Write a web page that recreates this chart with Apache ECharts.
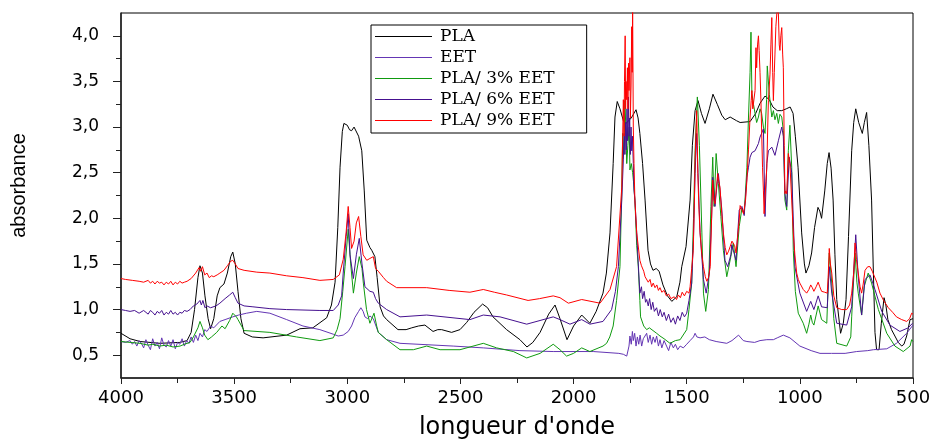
<!DOCTYPE html>
<html>
<head>
<meta charset="utf-8">
<script src="https://cdn.jsdelivr.net/npm/echarts@6/dist/echarts.min.js"></script>
<style>html,body{margin:0;padding:0;background:#fff;}#chart{width:938px;height:439px;}</style>
</head>
<body>
<div id="chart"></div>
<script>
// ---- data (wavenumber cm-1, absorbance) ----
const seriesNames = ['PLA', 'EET', 'PLA/ 3% EET', 'PLA/ 6% EET', 'PLA/ 9% EET'];
const yTickValues = [0.5, 1.0, 1.5, 2.0, 2.5, 3.0, 3.5, 4.0];
const yMinorTickValues = [0.75, 1.25, 1.75, 2.25, 2.75, 3.25, 3.75];

const plaData = [[4000,0.74],[3960,0.68],[3916,0.65],[3828,0.63],[3740,0.64],[3708,0.66],[3690,0.75],[3675,1.0],[3660,1.35],[3651,1.48],[3640,1.4],[3629,1.15],[3615,0.9],[3604,0.79],[3590,0.9],[3575,1.15],[3563,1.24],[3545,1.28],[3530,1.4],[3515,1.58],[3506,1.63],[3495,1.5],[3483,1.2],[3470,0.9],[3456,0.74],[3420,0.70],[3372,0.69],[3268,0.72],[3209,0.79],[3152,0.80],[3091,0.91],[3070,1.05],[3054,1.3],[3042,1.9],[3032,2.56],[3022,2.95],[3015,3.04],[3000,3.02],[2990,2.97],[2981,2.96],[2970,3.0],[2962,3.0],[2950,2.9],[2936,2.74],[2925,2.3],[2914,1.76],[2900,1.68],[2892,1.65],[2878,1.58],[2868,1.35],[2855,1.03],[2840,0.93],[2826,0.89],[2776,0.78],[2740,0.78],[2715,0.80],[2685,0.82],[2657,0.83],[2621,0.76],[2600,0.78],[2583,0.78],[2539,0.75],[2502,0.78],[2472,0.86],[2440,0.97],[2402,1.06],[2380,1.02],[2356,0.92],[2296,0.78],[2237,0.67],[2206,0.59],[2180,0.64],[2148,0.75],[2110,0.95],[2082,1.05],[2060,0.9],[2029,0.67],[2000,0.82],[1964,0.94],[1928,0.85],[1900,0.98],[1870,1.18],[1855,1.4],[1839,1.84],[1825,2.6],[1817,3.11],[1807,3.28],[1795,3.2],[1780,3.07],[1768,3.04],[1745,3.1],[1724,3.19],[1715,3.1],[1707,2.93],[1695,2.6],[1684,2.2],[1671,1.65],[1660,1.5],[1649,1.43],[1635,1.45],[1622,1.42],[1605,1.27],[1585,1.15],[1566,1.09],[1544,1.14],[1530,1.3],[1522,1.47],[1503,1.69],[1485,2.2],[1475,2.8],[1463,3.18],[1450,3.29],[1435,3.15],[1419,3.04],[1400,3.2],[1384,3.36],[1365,3.25],[1345,3.13],[1330,3.08],[1308,3.11],[1280,3.07],[1264,3.05],[1220,3.06],[1195,3.15],[1176,3.26],[1154,3.34],[1135,3.30],[1119,3.22],[1100,3.18],[1080,3.18],[1060,3.20],[1043,3.22],[1030,3.15],[1020,2.9],[1008,2.56],[992,1.84],[980,1.5],[973,1.40],[960,1.48],[948,1.62],[935,1.9],[920,2.12],[912,2.08],[904,2.0],[890,2.3],[879,2.6],[871,2.72],[862,2.55],[853,2.2],[845,1.6],[837,1.11],[820,0.74],[808,0.85],[796,1.11],[785,1.8],[771,2.74],[762,3.05],[753,3.20],[740,3.05],[724,2.93],[715,3.05],[705,3.16],[695,2.8],[683,2.2],[675,1.4],[668,0.75],[661,0.56],[650,0.56],[640,0.85],[628,1.13],[620,1.05],[611,0.89],[595,0.78],[580,0.71],[565,0.64],[550,0.60],[540,0.62],[528,0.71],[513,0.89],[500,0.90]];

const eetData = [[4000,0.65],[3980,0.64],[3960,0.66],[3950,0.62],[3940,0.65],[3930,0.60],[3920,0.66],[3910,0.63],[3900,0.58],[3890,0.67],[3880,0.61],[3870,0.56],[3860,0.68],[3850,0.60],[3840,0.64],[3830,0.57],[3820,0.69],[3810,0.61],[3800,0.59],[3790,0.66],[3780,0.60],[3770,0.67],[3760,0.57],[3750,0.64],[3740,0.62],[3730,0.68],[3720,0.60],[3710,0.66],[3700,0.63],[3690,0.70],[3680,0.64],[3670,0.72],[3660,0.66],[3651,0.74],[3640,0.70],[3630,0.78],[3620,0.76],[3604,0.82],[3590,0.80],[3563,0.87],[3540,0.89],[3506,0.92],[3480,0.94],[3445,0.96],[3400,0.98],[3342,0.96],[3268,0.89],[3196,0.82],[3121,0.78],[3062,0.73],[3040,0.71],[3018,0.72],[2996,0.76],[2981,0.82],[2967,0.91],[2950,0.98],[2940,1.02],[2930,0.98],[2922,0.92],[2910,0.90],[2900,0.93],[2885,0.90],[2863,0.75],[2826,0.67],[2767,0.63],[2532,0.60],[2399,0.58],[2237,0.55],[2090,0.54],[1913,0.54],[1800,0.52],[1780,0.51],[1765,0.49],[1755,0.60],[1751,0.71],[1745,0.62],[1740,0.76],[1736,0.66],[1730,0.74],[1724,0.60],[1718,0.70],[1712,0.62],[1706,0.72],[1699,0.60],[1692,0.68],[1685,0.70],[1677,0.74],[1670,0.64],[1662,0.72],[1655,0.62],[1648,0.70],[1640,0.64],[1633,0.71],[1625,0.60],[1618,0.67],[1610,0.58],[1600,0.66],[1589,0.60],[1580,0.55],[1570,0.64],[1559,0.58],[1550,0.62],[1540,0.56],[1529,0.60],[1515,0.58],[1500,0.62],[1485,0.66],[1470,0.70],[1463,0.74],[1455,0.70],[1441,0.69],[1420,0.70],[1400,0.67],[1370,0.65],[1323,0.63],[1300,0.66],[1271,0.72],[1250,0.66],[1234,0.65],[1200,0.64],[1176,0.66],[1146,0.67],[1117,0.67],[1100,0.69],[1073,0.72],[1044,0.69],[1000,0.60],[950,0.55],[911,0.52],[860,0.52],[800,0.52],[749,0.54],[700,0.55],[675,0.56],[616,0.57],[573,0.63],[528,0.74],[500,0.83]];

const pla3Data = [[4000,0.65],[3960,0.64],[3916,0.63],[3880,0.61],[3859,0.62],[3830,0.60],[3800,0.61],[3770,0.59],[3739,0.60],[3720,0.62],[3695,0.64],[3680,0.70],[3660,0.80],[3651,0.87],[3640,0.80],[3630,0.72],[3616,0.67],[3600,0.70],[3577,0.75],[3554,0.82],[3540,0.79],[3520,0.88],[3506,0.96],[3490,0.92],[3483,0.89],[3456,0.77],[3342,0.75],[3224,0.70],[3121,0.66],[3062,0.69],[3045,0.78],[3032,0.90],[3020,1.20],[3010,1.47],[2996,1.88],[2985,1.50],[2973,1.18],[2960,1.40],[2947,1.58],[2935,1.45],[2929,1.29],[2915,1.00],[2900,0.85],[2882,0.96],[2870,0.82],[2863,0.75],[2826,0.67],[2767,0.56],[2708,0.56],[2649,0.60],[2590,0.56],[2502,0.56],[2399,0.63],[2340,0.58],[2266,0.54],[2207,0.47],[2148,0.52],[2090,0.62],[2060,0.56],[2031,0.49],[2000,0.52],[1964,0.58],[1928,0.54],[1870,0.60],[1854,0.63],[1840,0.70],[1825,0.82],[1810,1.10],[1795,1.47],[1787,2.30],[1783,2.93],[1778,2.70],[1773,3.29],[1768,2.90],[1765,2.60],[1760,2.80],[1754,3.00],[1751,2.53],[1745,2.60],[1739,2.50],[1735,2.40],[1729,2.20],[1721,1.70],[1714,1.47],[1707,1.10],[1704,0.92],[1690,0.82],[1677,0.78],[1665,0.80],[1649,0.77],[1633,0.74],[1618,0.71],[1600,0.68],[1574,0.63],[1550,0.66],[1529,0.67],[1500,0.78],[1490,1.00],[1478,1.29],[1470,2.00],[1463,2.74],[1453,3.33],[1444,2.80],[1433,1.84],[1426,1.18],[1416,0.98],[1404,1.22],[1393,2.13],[1385,2.67],[1379,2.13],[1370,2.71],[1360,2.38],[1349,2.02],[1338,1.65],[1323,1.36],[1305,1.58],[1294,1.73],[1282,1.47],[1268,1.91],[1256,2.11],[1246,2.05],[1234,2.56],[1227,3.11],[1220,3.60],[1216,4.04],[1212,3.37],[1205,3.25],[1198,3.15],[1191,3.05],[1183,3.11],[1176,3.20],[1169,3.15],[1161,3.00],[1154,2.93],[1147,3.30],[1144,3.67],[1135,3.36],[1124,3.11],[1117,3.18],[1110,3.08],[1102,3.15],[1095,3.04],[1088,3.14],[1080,3.11],[1073,2.96],[1066,2.20],[1058,2.09],[1051,2.74],[1044,3.02],[1036,2.56],[1029,1.65],[1020,1.20],[1007,0.96],[985,0.85],[970,0.74],[960,0.84],[952,0.94],[945,0.86],[938,0.83],[919,1.04],[904,0.89],[881,0.85],[870,1.62],[859,1.29],[850,0.90],[837,0.63],[793,0.60],[775,0.70],[771,0.92],[756,1.62],[748,1.30],[742,1.18],[727,0.94],[716,1.25],[698,1.40],[683,1.29],[653,1.00],[616,0.74],[580,0.60],[543,0.54],[513,0.60],[506,0.67],[500,0.65]];

const pla6Data = [[4000,1.00],[3980,0.99],[3960,0.98],[3940,0.99],[3920,0.96],[3900,0.99],[3880,0.95],[3870,0.99],[3860,0.97],[3850,0.94],[3840,0.98],[3830,0.96],[3820,0.99],[3810,0.94],[3800,0.97],[3790,0.95],[3780,0.99],[3770,0.95],[3760,0.97],[3750,0.94],[3740,0.97],[3730,0.96],[3720,0.99],[3708,0.98],[3695,1.00],[3680,1.04],[3665,1.06],[3651,1.10],[3645,1.05],[3638,1.10],[3629,1.02],[3620,1.04],[3604,1.02],[3580,1.04],[3563,1.07],[3540,1.12],[3520,1.16],[3506,1.19],[3495,1.13],[3483,1.07],[3456,1.04],[3417,1.03],[3342,1.01],[3268,1.00],[3121,0.99],[3062,0.99],[3040,1.05],[3025,1.15],[3018,1.40],[3005,1.80],[2996,2.05],[2988,1.60],[2973,1.34],[2960,1.60],[2947,1.78],[2935,1.50],[2922,1.25],[2900,1.20],[2885,1.19],[2875,1.12],[2863,1.07],[2826,1.00],[2767,0.92],[2649,0.94],[2458,0.89],[2399,0.94],[2325,0.92],[2207,0.84],[2090,0.92],[2060,0.89],[2016,0.84],[1964,0.89],[1928,0.84],[1870,0.87],[1832,1.00],[1815,1.20],[1802,1.47],[1787,2.20],[1780,2.64],[1776,2.93],[1773,2.70],[1770,3.05],[1767,2.75],[1764,3.20],[1761,2.85],[1758,3.33],[1755,2.90],[1752,3.10],[1749,2.70],[1746,3.00],[1743,2.74],[1740,2.90],[1736,2.60],[1733,2.31],[1729,2.20],[1721,1.84],[1714,1.50],[1707,1.18],[1700,1.25],[1695,1.12],[1688,1.20],[1682,1.08],[1677,1.11],[1670,1.04],[1664,1.12],[1657,1.00],[1650,1.08],[1643,0.98],[1633,1.02],[1625,0.93],[1617,1.00],[1608,0.92],[1600,0.97],[1590,0.88],[1580,0.95],[1570,0.86],[1559,0.91],[1550,0.84],[1540,0.93],[1530,0.88],[1520,0.97],[1510,0.92],[1500,0.96],[1490,1.10],[1478,1.29],[1470,1.80],[1463,2.49],[1456,2.93],[1450,2.50],[1441,1.84],[1426,1.33],[1414,1.18],[1400,1.40],[1390,2.00],[1385,2.45],[1375,2.13],[1365,2.40],[1360,2.49],[1345,2.10],[1331,1.54],[1319,1.47],[1305,1.60],[1301,1.71],[1294,1.72],[1282,1.54],[1268,2.09],[1256,2.13],[1246,2.03],[1234,2.45],[1227,2.56],[1220,2.67],[1212,2.72],[1198,2.74],[1183,2.82],[1176,2.89],[1161,2.98],[1154,2.02],[1146,2.60],[1139,2.74],[1124,2.78],[1110,2.69],[1095,2.85],[1080,3.00],[1073,2.90],[1066,2.27],[1058,2.13],[1047,2.67],[1036,2.50],[1022,1.47],[1000,1.18],[970,0.98],[952,1.09],[938,1.00],[919,1.15],[904,1.03],[879,1.02],[870,1.47],[859,1.18],[837,0.85],[793,0.83],[771,1.03],[753,1.82],[742,1.36],[727,0.94],[712,1.33],[690,1.38],[668,1.22],[638,0.98],[602,0.83],[558,0.76],[521,0.80],[502,0.85],[500,0.85]];

const pla9Data = [[4000,1.34],[3980,1.33],[3950,1.32],[3920,1.31],[3900,1.30],[3880,1.32],[3870,1.29],[3860,1.31],[3850,1.28],[3840,1.31],[3830,1.29],[3820,1.30],[3810,1.27],[3800,1.30],[3790,1.28],[3780,1.31],[3770,1.27],[3760,1.30],[3750,1.28],[3740,1.31],[3730,1.29],[3720,1.30],[3708,1.31],[3690,1.34],[3670,1.40],[3655,1.46],[3648,1.42],[3640,1.47],[3630,1.38],[3620,1.40],[3610,1.35],[3600,1.37],[3590,1.36],[3575,1.38],[3563,1.40],[3545,1.43],[3530,1.48],[3515,1.53],[3506,1.54],[3495,1.50],[3483,1.45],[3456,1.43],[3400,1.41],[3342,1.40],[3268,1.37],[3196,1.35],[3121,1.32],[3062,1.33],[3035,1.38],[3018,1.55],[3005,1.85],[2996,2.13],[2988,1.90],[2981,1.67],[2970,1.75],[2960,1.95],[2950,2.02],[2940,1.80],[2930,1.60],[2914,1.54],[2900,1.56],[2885,1.58],[2875,1.45],[2863,1.42],[2855,1.42],[2840,1.35],[2826,1.31],[2782,1.24],[2649,1.24],[2550,1.21],[2458,1.19],[2399,1.22],[2350,1.19],[2296,1.16],[2201,1.10],[2150,1.12],[2090,1.15],[2060,1.13],[2023,1.07],[1964,1.11],[1883,1.07],[1839,1.22],[1810,1.47],[1787,2.34],[1783,2.90],[1780,3.30],[1777,2.90],[1775,3.50],[1772,4.00],[1770,3.20],[1768,3.50],[1765,3.30],[1762,3.65],[1760,3.20],[1757,3.70],[1755,3.40],[1751,3.76],[1749,3.10],[1746,3.45],[1743,4.10],[1741,3.60],[1739,4.30],[1736,3.00],[1733,2.60],[1729,2.20],[1721,1.84],[1707,1.54],[1700,1.48],[1690,1.42],[1684,1.36],[1677,1.38],[1670,1.30],[1662,1.33],[1655,1.25],[1648,1.29],[1640,1.24],[1632,1.27],[1625,1.21],[1618,1.24],[1610,1.19],[1600,1.21],[1590,1.15],[1580,1.17],[1570,1.12],[1562,1.10],[1555,1.14],[1545,1.11],[1537,1.16],[1528,1.13],[1520,1.19],[1510,1.15],[1500,1.20],[1490,1.18],[1485,1.25],[1478,1.45],[1471,1.65],[1466,2.20],[1463,2.64],[1458,3.00],[1456,3.18],[1453,2.80],[1451,2.49],[1446,2.10],[1441,1.84],[1433,1.60],[1426,1.47],[1418,1.36],[1411,1.31],[1404,1.35],[1396,1.47],[1390,2.00],[1385,2.42],[1380,2.20],[1375,2.16],[1370,2.30],[1363,2.49],[1358,2.40],[1353,2.34],[1345,2.05],[1338,1.84],[1330,1.68],[1323,1.60],[1315,1.64],[1308,1.69],[1300,1.75],[1294,1.77],[1288,1.70],[1282,1.62],[1275,1.80],[1268,1.98],[1264,2.14],[1256,2.10],[1249,2.05],[1240,2.20],[1234,2.42],[1227,2.75],[1220,3.11],[1215,3.29],[1212,3.40],[1208,3.20],[1205,3.18],[1198,3.40],[1194,3.87],[1191,3.65],[1187,3.90],[1183,4.00],[1180,3.84],[1176,3.60],[1172,3.29],[1165,2.56],[1161,2.30],[1158,2.05],[1154,2.05],[1150,2.40],[1146,2.56],[1142,3.00],[1139,3.29],[1135,3.45],[1132,3.58],[1128,3.90],[1124,4.20],[1120,3.60],[1117,3.29],[1113,3.60],[1110,3.80],[1106,4.10],[1102,4.24],[1098,4.30],[1095,4.25],[1091,3.90],[1088,3.84],[1084,4.00],[1080,4.09],[1076,3.80],[1073,3.65],[1069,2.80],[1066,2.27],[1062,2.30],[1058,2.27],[1051,2.71],[1044,2.60],[1036,2.20],[1029,1.84],[1022,1.60],[1014,1.40],[1007,1.33],[1000,1.29],[985,1.22],[970,1.18],[960,1.22],[952,1.27],[945,1.24],[938,1.20],[928,1.25],[919,1.30],[912,1.25],[904,1.20],[890,1.19],[879,1.18],[875,1.35],[870,1.67],[865,1.50],[859,1.40],[850,1.15],[837,1.02],[815,1.00],[793,1.00],[780,1.05],[771,1.18],[762,1.40],[756,1.73],[750,1.55],[742,1.40],[734,1.25],[727,1.18],[720,1.28],[712,1.43],[700,1.47],[690,1.47],[680,1.42],[675,1.40],[660,1.30],[646,1.18],[630,1.10],[609,1.02],[590,0.97],[573,0.92],[550,0.89],[528,0.87],[515,0.90],[506,0.96],[500,0.95]];

const seriesColors = ['#000000', '#6436b4', '#0f9a0f', '#45108f', '#ff0000'];
const seriesData = [plaData, eetData, pla3Data, pla6Data, pla9Data];

const chart = echarts.init(document.getElementById('chart'), null, {renderer: 'canvas'});
const fmtY = v => v.toFixed(1).replace('.', ',');
const fmtX = v => String(v);

chart.setOption({
  animation: false,
  backgroundColor: '#ffffff',
  grid: {left: 121, right: 25, top: 13, bottom: 61, show: true, borderColor: '#000', borderWidth: 1,
         backgroundColor: 'transparent', containLabel: false, outerBoundsMode: 'none'},
  legend: {
    data: seriesNames,
    orient: 'vertical',
    left: 371, top: 25,
    backgroundColor: '#fff',
    borderColor: '#000', borderWidth: 1,
    padding: [3, 32, 4, 4],
    itemWidth: 57, itemHeight: 14, itemGap: 4,
    icon: 'path://M0,7 L57,7 L57,8 L0,8 Z',
    textStyle: {fontFamily: 'DejaVu Serif', fontSize: 17, color: '#000', padding: [0, 0, 0, 3]}
  },
  xAxis: {
    type: 'value', inverse: true, min: 500, max: 4000, interval: 500,
    name: "longueur d'onde", nameLocation: 'middle', nameGap: 38,
    nameTextStyle: {fontFamily: 'DejaVu Sans', fontSize: 24, color: '#000'},
    axisLine: {show: true, onZero: false, lineStyle: {color: '#222', width: 1.5}},
    axisTick: {show: true, inside: false, length: 6, lineStyle: {color: '#222', width: 1}},
    minorTick: {show: true, splitNumber: 2, length: 5, lineStyle: {color: '#222', width: 1}},
    axisLabel: {formatter: fmtX, fontFamily: 'DejaVu Sans', fontSize: 18, color: '#000', margin: 11},
    splitLine: {show: false}
  },
  yAxis: [{
    type: 'value', min: 0.25, max: 4.25,
    name: 'absorbance', nameLocation: 'middle', nameGap: 92, nameRotate: 90,
    nameTextStyle: {fontFamily: 'Liberation Sans', fontSize: 20, color: '#000', padding: [0, 0, 0, 20]},
    axisLine: {show: true, onZero: false, lineStyle: {color: '#222', width: 1.5}},
    axisTick: {show: true, inside: false, length: 8, customValues: yTickValues, lineStyle: {color: '#222', width: 1}},
    axisLabel: {customValues: yTickValues, formatter: fmtY, fontFamily: 'DejaVu Sans', fontSize: 17, color: '#000', margin: 22},
    splitLine: {show: false}
  }, {
    type: 'value', min: 0.25, max: 4.25, position: 'left',
    axisLine: {show: false},
    axisTick: {show: true, inside: false, length: 5, customValues: yMinorTickValues, lineStyle: {color: '#222', width: 1}},
    axisLabel: {show: false},
    splitLine: {show: false}
  }],
  series: seriesNames.map((n, i) => ({
    name: n, type: 'line', data: seriesData[i], yAxisIndex: 0,
    symbol: 'none', showSymbol: false, smooth: false, clip: true,
    lineStyle: {color: seriesColors[i], width: 1},
    itemStyle: {color: seriesColors[i]},
    z: 2 + i
  }))
});
</script>
</body>
</html>
